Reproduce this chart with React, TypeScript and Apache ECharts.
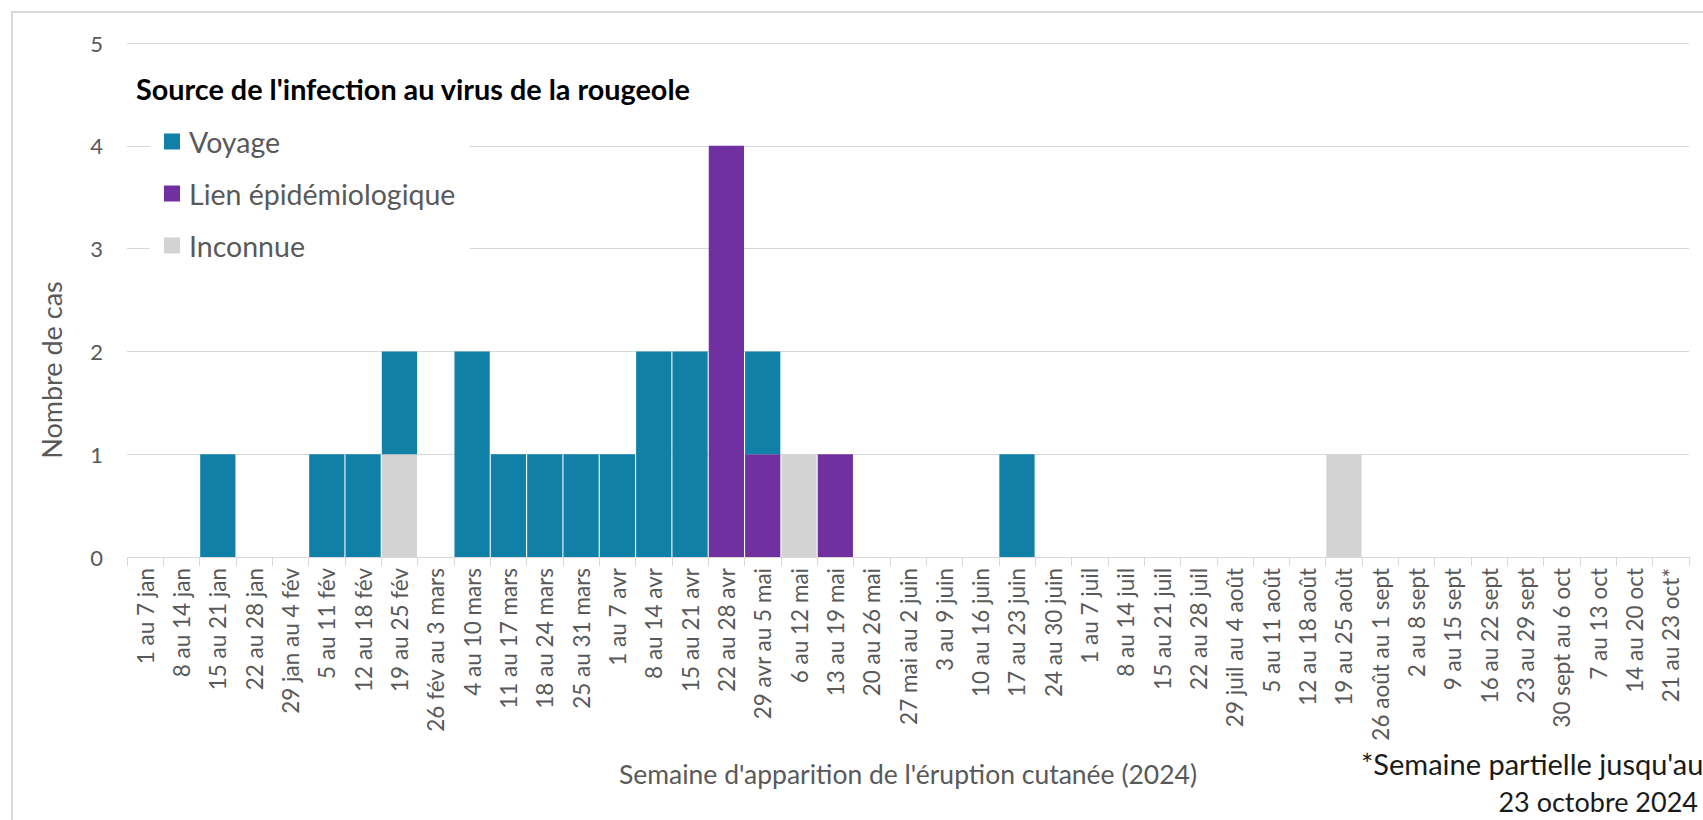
import React, { useEffect, useRef } from "react";
import * as echarts from "echarts";

const categories = [
  "1 au 7 jan", "8 au 14 jan", "15 au 21 jan", "22 au 28 jan", "29 jan au 4 fév",
  "5 au 11 fév", "12 au 18 fév", "19 au 25 fév", "26 fév au 3 mars", "4 au 10 mars",
  "11 au 17 mars", "18 au 24 mars", "25 au 31 mars", "1 au 7 avr", "8 au 14 avr",
  "15 au 21 avr", "22 au 28 avr", "29 avr au 5 mai", "6 au 12 mai", "13 au 19 mai",
  "20 au 26 mai", "27 mai au 2 juin", "3 au 9 juin", "10 au 16 juin", "17 au 23 juin",
  "24 au 30 juin", "1 au 7 juil", "8 au 14 juil", "15 au 21 juil", "22 au 28 juil",
  "29 juil au 4 août", "5 au 11 août", "12 au 18 août", "19 au 25 août", "26 août au 1 sept",
  "2 au 8 sept", "9 au 15 sept", "16 au 22 sept", "23 au 29 sept", "30 sept au 6 oct",
  "7 au 13 oct", "14 au 20 oct", "21 au 23 oct*",
];

const voyage = [
  0, 0, 1, 0, 0, 1, 1, 1, 0, 2,
  1, 1, 1, 1, 2, 2, 0, 1, 0, 0,
  0, 0, 0, 0, 1, 0, 0, 0, 0, 0,
  0, 0, 0, 0, 0, 0, 0, 0, 0, 0,
  0, 0, 0,
];
const lienEpidemiologique = [
  0, 0, 0, 0, 0, 0, 0, 0, 0, 0,
  0, 0, 0, 0, 0, 0, 4, 1, 0, 1,
  0, 0, 0, 0, 0, 0, 0, 0, 0, 0,
  0, 0, 0, 0, 0, 0, 0, 0, 0, 0,
  0, 0, 0,
];
const inconnue = [
  0, 0, 0, 0, 0, 0, 0, 1, 0, 0,
  0, 0, 0, 0, 0, 0, 0, 0, 1, 0,
  0, 0, 0, 0, 0, 0, 0, 0, 0, 0,
  0, 0, 0, 1, 0, 0, 0, 0, 0, 0,
  0, 0, 0,
];

const titleText = "Source de l'infection au virus de la rougeole";
const xAxisName = "Semaine d'apparition de l'éruption cutanée (2024)";
const yAxisName = "Nombre de cas";
const footnoteLine1 = "*Semaine partielle jusqu'au";
const footnoteLine2 = "23 octobre 2024";

const FONT = "Lato, 'Noto Sans', sans-serif";
const GREY_TEXT = "#595959";
const GRID_LINE = "#d9d9d9";

export default function App() {
  const ref = useRef<HTMLDivElement>(null);

  useEffect(() => {
    if (!ref.current) return;
    const chart = echarts.init(ref.current, null, { renderer: "svg" });
    const barBase = {
      type: "bar",
      stack: "total",
      barCategoryGap: "3%",
      emphasis: { disabled: true },
    };
    chart.setOption({
      animation: false,
      backgroundColor: "#ffffff",
      textStyle: { fontFamily: FONT },
      title: {
        text: titleText,
        left: 136,
        top: 74,
        padding: 0,
        textStyle: { fontFamily: FONT, fontWeight: "bold", fontSize: 28.8, color: "#000000" },
      },
      legend: {
        data: ["Voyage", "Lien épidémiologique", "Inconnue"],
        orient: "vertical",
        left: 150,
        top: 118,
        padding: [8, 14, 8, 14],
        backgroundColor: "#ffffff",
        itemWidth: 16,
        itemHeight: 16,
        itemGap: 21,
        icon: "rect",
        textStyle: { fontFamily: FONT, fontSize: 28.5, color: GREY_TEXT, lineHeight: 31, padding: [0, 0, 0, 4] },
      },
      grid: { left: 127, right: 14, top: 43, bottom: 263, containLabel: false },
      xAxis: {
        type: "category",
        data: categories,
        name: xAxisName,
        nameLocation: "middle",
        nameGap: 203,
        nameTextStyle: { fontFamily: FONT, fontSize: 26.5, color: GREY_TEXT },
        axisLine: { lineStyle: { color: GRID_LINE, width: 1 } },
        axisTick: { show: true, alignWithLabel: false, length: 9, lineStyle: { color: GRID_LINE } },
        axisLabel: { interval: 0, rotate: 90, margin: 11, fontFamily: FONT, fontSize: 22.5, color: GREY_TEXT },
      },
      yAxis: {
        type: "value",
        min: 0,
        max: 5,
        interval: 1,
        axisLine: { show: false },
        axisTick: { show: false },
        axisLabel: { margin: 24, fontFamily: FONT, fontSize: 22, color: GREY_TEXT },
        splitLine: { lineStyle: { color: GRID_LINE, width: 1 } },
      },
      series: [
        { ...barBase, name: "Inconnue", data: inconnue, itemStyle: { color: "#d3d3d3" } },
        { ...barBase, name: "Lien épidémiologique", data: lienEpidemiologique, itemStyle: { color: "#7030a0" } },
        { ...barBase, name: "Voyage", data: voyage, itemStyle: { color: "#1080a6" } },
      ],
      graphic: [
        {
          type: "rect",
          silent: true,
          z: -10,
          shape: { x: 12, y: 12, width: 1780, height: 900 },
          style: { fill: "none", stroke: "#d9d9d9", lineWidth: 2 },
        },
        {
          type: "text",
          silent: true,
          x: 51,
          y: 370,
          rotation: Math.PI / 2,
          style: {
            text: yAxisName,
            fontFamily: FONT,
            fontSize: 27,
            fill: GREY_TEXT,
            textAlign: "center",
            textVerticalAlign: "middle",
          },
        },
        {
          type: "text",
          silent: true,
          x: 1361,
          y: 763,
          style: {
            text: footnoteLine1,
            fontFamily: FONT,
            fontSize: 29,
            fill: "#1a1a1a",
            textAlign: "left",
            textVerticalAlign: "middle",
          },
        },
        {
          type: "text",
          silent: true,
          x: 1698,
          y: 801,
          style: {
            text: footnoteLine2,
            fontFamily: FONT,
            fontSize: 27,
            fill: "#1a1a1a",
            textAlign: "right",
            textVerticalAlign: "middle",
          },
        },
      ],
    });
    return () => chart.dispose();
  }, []);

  return (
    <div
      ref={ref}
      style={{ position: "fixed", left: 0, top: 0, width: 1703, height: 820, background: "#ffffff" }}
    />
  );
}
